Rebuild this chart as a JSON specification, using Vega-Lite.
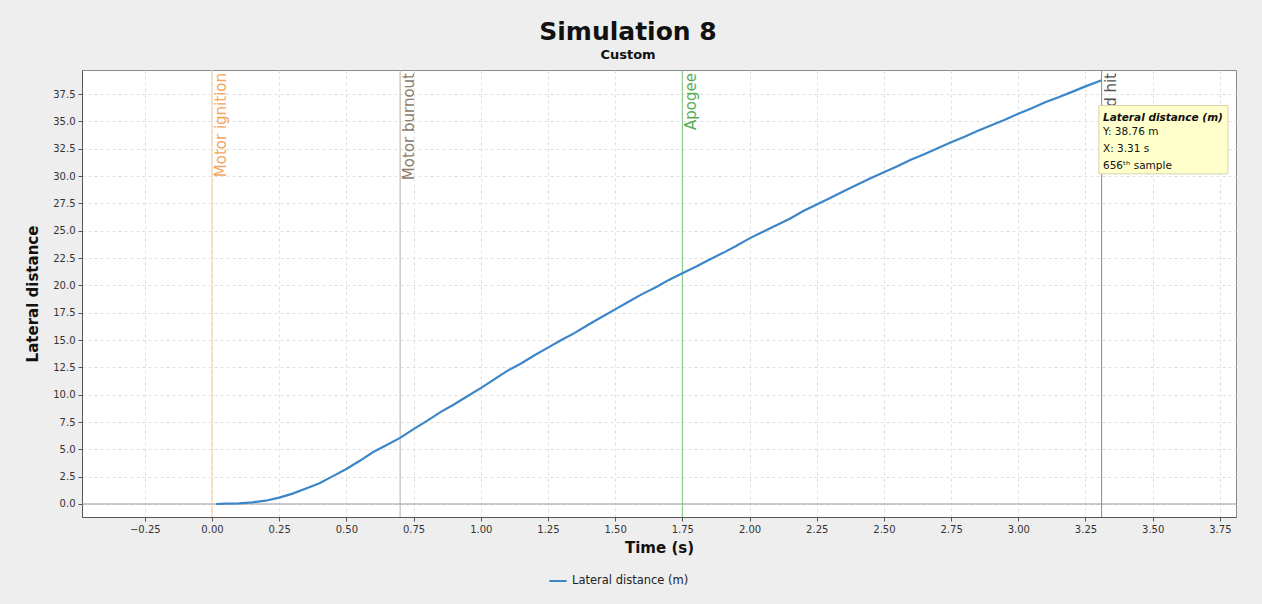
{
  "$schema": "https://vega.github.io/schema/vega-lite/v6.json",
  "width": 1154,
  "height": 447,
  "autosize": {"type": "none"},
  "padding": {"left": 82, "top": 70, "right": 26, "bottom": 87},
  "background": "#eeeeee",
  "config": {
    "view": {"fill": "white", "stroke": "#8a8a8a", "strokeWidth": 1},
    "font": "DejaVu Sans",
    "axis": {
      "labelFont": "DejaVu Sans",
      "labelFontSize": 10,
      "labelColor": "#333333",
      "labelOverlap": false,
      "titleFont": "DejaVu Sans",
      "titleFontSize": 15,
      "titleFontWeight": "bold",
      "titleColor": "#111111",
      "domainColor": "#555555",
      "tickColor": "#555555",
      "tickSize": 4,
      "labelPadding": 3,
      "gridColor": "#e0e0e0",
      "gridDash": [3, 3],
      "gridWidth": 1
    },
    "axisY": {"titlePadding": 12},
    "axisX": {"titlePadding": 6}
  },
  "title": {
    "text": "Simulation 8",
    "subtitle": "Custom",
    "anchor": "middle",
    "dx": -31,
    "fontSize": 25,
    "fontWeight": "bold",
    "color": "#111111",
    "subtitleFontSize": 13,
    "subtitleFontWeight": "bold",
    "subtitleColor": "#111111",
    "subtitlePadding": 4,
    "offset": 8
  },
  "datasets": {
    "series": [
      {"t": 0.015, "v": 0.0}, {"t": 0.05, "v": 0.03}, {"t": 0.10, "v": 0.05}, {"t": 0.15, "v": 0.15},
      {"t": 0.20, "v": 0.3}, {"t": 0.25, "v": 0.58}, {"t": 0.30, "v": 0.95}, {"t": 0.35, "v": 1.42},
      {"t": 0.40, "v": 1.9}, {"t": 0.45, "v": 2.55}, {"t": 0.50, "v": 3.2}, {"t": 0.55, "v": 3.95},
      {"t": 0.60, "v": 4.75}, {"t": 0.65, "v": 5.4}, {"t": 0.70, "v": 6.05}, {"t": 0.75, "v": 6.85},
      {"t": 0.80, "v": 7.6}, {"t": 0.85, "v": 8.4}, {"t": 0.90, "v": 9.1}, {"t": 0.95, "v": 9.85},
      {"t": 1.00, "v": 10.6}, {"t": 1.05, "v": 11.4}, {"t": 1.10, "v": 12.2}, {"t": 1.15, "v": 12.85},
      {"t": 1.20, "v": 13.6}, {"t": 1.25, "v": 14.3}, {"t": 1.30, "v": 15.0}, {"t": 1.35, "v": 15.65},
      {"t": 1.40, "v": 16.4}, {"t": 1.45, "v": 17.1}, {"t": 1.50, "v": 17.8}, {"t": 1.55, "v": 18.5},
      {"t": 1.60, "v": 19.2}, {"t": 1.65, "v": 19.8}, {"t": 1.70, "v": 20.5}, {"t": 1.75, "v": 21.1},
      {"t": 1.80, "v": 21.7}, {"t": 1.85, "v": 22.35}, {"t": 1.90, "v": 22.95}, {"t": 1.95, "v": 23.6},
      {"t": 2.00, "v": 24.3}, {"t": 2.05, "v": 24.9}, {"t": 2.10, "v": 25.5}, {"t": 2.15, "v": 26.1},
      {"t": 2.20, "v": 26.8}, {"t": 2.25, "v": 27.4}, {"t": 2.30, "v": 28.0}, {"t": 2.35, "v": 28.6},
      {"t": 2.40, "v": 29.2}, {"t": 2.45, "v": 29.8}, {"t": 2.50, "v": 30.35}, {"t": 2.55, "v": 30.9},
      {"t": 2.60, "v": 31.5}, {"t": 2.65, "v": 32.0}, {"t": 2.70, "v": 32.55}, {"t": 2.75, "v": 33.1},
      {"t": 2.80, "v": 33.6}, {"t": 2.85, "v": 34.15}, {"t": 2.90, "v": 34.65}, {"t": 2.95, "v": 35.15},
      {"t": 3.00, "v": 35.7}, {"t": 3.05, "v": 36.2}, {"t": 3.10, "v": 36.75}, {"t": 3.15, "v": 37.2},
      {"t": 3.20, "v": 37.7}, {"t": 3.25, "v": 38.2}, {"t": 3.31, "v": 38.76}
    ],
    "events": [
      {"t": 0.0, "event": "Motor ignition"},
      {"t": 0.7, "event": "Motor burnout"},
      {"t": 1.75, "event": "Apogee"},
      {"t": 3.31, "event": "Ground hit"}
    ]
  },
  "layer": [
    {
      "data": {"values": [{"v": 0}]},
      "mark": {"type": "rule", "color": "#9a9a9a", "strokeWidth": 1},
      "encoding": {
        "y": {
          "field": "v", "type": "quantitative",
          "scale": {"domain": [-1.19, 39.7], "nice": false, "zero": false},
          "axis": {"values": [0, 2.5, 5, 7.5, 10, 12.5, 15, 17.5, 20, 22.5, 25, 27.5, 30, 32.5, 35, 37.5], "format": ".1f"},
          "title": "Lateral distance"
        }
      }
    },
    {
      "data": {"name": "events"},
      "mark": {"type": "rule", "strokeWidth": 1},
      "encoding": {
        "x": {
          "field": "t", "type": "quantitative",
          "scale": {"domain": [-0.4836, 3.81], "nice": false, "zero": false},
          "axis": {"values": [-0.25, 0, 0.25, 0.5, 0.75, 1, 1.25, 1.5, 1.75, 2, 2.25, 2.5, 2.75, 3, 3.25, 3.5, 3.75], "format": ".2f"},
          "title": "Time (s)"
        },
        "stroke": {
          "field": "event", "type": "nominal",
          "scale": {"domain": ["Motor ignition", "Motor burnout", "Apogee", "Ground hit"], "range": ["#f7c89a", "#b8ada3", "#7cc47c", "#8a8a8a"]},
          "legend": null
        }
      }
    },
    {
      "data": {"name": "events"},
      "mark": {"type": "text", "angle": 270, "align": "right", "baseline": "top", "dx": -3, "dy": 2, "fontSize": 15, "font": "DejaVu Sans"},
      "encoding": {
        "x": {"field": "t", "type": "quantitative", "title": "Time (s)",
          "axis": {"values": [-0.25, 0, 0.25, 0.5, 0.75, 1, 1.25, 1.5, 1.75, 2, 2.25, 2.5, 2.75, 3, 3.25, 3.5, 3.75], "format": ".2f"}},
        "y": {"datum": 39.7, "type": "quantitative", "title": "Lateral distance",
          "axis": {"values": [0, 2.5, 5, 7.5, 10, 12.5, 15, 17.5, 20, 22.5, 25, 27.5, 30, 32.5, 35, 37.5], "format": ".1f"}},
        "text": {"field": "event"},
        "fill": {
          "field": "event", "type": "nominal",
          "scale": {"domain": ["Motor ignition", "Motor burnout", "Apogee", "Ground hit"], "range": ["#f2a55f", "#8c7b6d", "#5aad5a", "#555555"]},
          "legend": null
        }
      }
    },
    {
      "data": {"name": "series"},
      "mark": {"type": "line", "strokeWidth": 2.2, "interpolate": "linear"},
      "encoding": {
        "x": {"field": "t", "type": "quantitative", "title": "Time (s)",
          "axis": {"values": [-0.25, 0, 0.25, 0.5, 0.75, 1, 1.25, 1.5, 1.75, 2, 2.25, 2.5, 2.75, 3, 3.25, 3.5, 3.75], "format": ".2f"}},
        "y": {"field": "v", "type": "quantitative", "title": "Lateral distance",
          "axis": {"values": [0, 2.5, 5, 7.5, 10, 12.5, 15, 17.5, 20, 22.5, 25, 27.5, 30, 32.5, 35, 37.5], "format": ".1f"}},
        "color": {
          "datum": "Lateral distance (m)",
          "scale": {"range": ["#3c86c8"]},
          "legend": {
            "orient": "none", "legendX": 466, "legendY": 501, "title": null,
            "symbolType": "stroke", "symbolSize": 300, "symbolStrokeWidth": 2,
            "labelFontSize": 11.5, "labelFont": "DejaVu Sans", "labelColor": "#222222"
          }
        }
      }
    },
    {
      "data": {"values": [{"a": 3.30, "b": 3.78, "c": 36.45, "d": 30.2}]},
      "mark": {"type": "rect", "fill": "#ffffcc", "stroke": "#d6d6a8", "strokeWidth": 1},
      "encoding": {
        "x": {"field": "a", "type": "quantitative", "title": "Time (s)",
          "axis": {"values": [-0.25, 0, 0.25, 0.5, 0.75, 1, 1.25, 1.5, 1.75, 2, 2.25, 2.5, 2.75, 3, 3.25, 3.5, 3.75], "format": ".2f"}},
        "x2": {"field": "b"},
        "y": {"field": "c", "type": "quantitative", "title": "Lateral distance",
          "axis": {"values": [0, 2.5, 5, 7.5, 10, 12.5, 15, 17.5, 20, 22.5, 25, 27.5, 30, 32.5, 35, 37.5], "format": ".1f"}},
        "y2": {"field": "d"}
      }
    },
    {
      "data": {"values": [{"a": 3.315, "c": 35.05, "label": "Lateral distance (m)"}]},
      "mark": {"type": "text", "align": "left", "baseline": "alphabetic", "fontSize": 10.5, "fontWeight": "bold", "fontStyle": "italic", "font": "DejaVu Sans", "color": "#111111"},
      "encoding": {
        "x": {"field": "a", "type": "quantitative", "title": "Time (s)",
          "axis": {"values": [-0.25, 0, 0.25, 0.5, 0.75, 1, 1.25, 1.5, 1.75, 2, 2.25, 2.5, 2.75, 3, 3.25, 3.5, 3.75], "format": ".2f"}},
        "y": {"field": "c", "type": "quantitative", "title": "Lateral distance",
          "axis": {"values": [0, 2.5, 5, 7.5, 10, 12.5, 15, 17.5, 20, 22.5, 25, 27.5, 30, 32.5, 35, 37.5], "format": ".1f"}},
        "text": {"field": "label"}
      }
    },
    {
      "data": {"values": [{"a": 3.315, "c": 33.75}]},
      "mark": {"type": "text", "align": "left", "baseline": "alphabetic", "fontSize": 10.5, "lineHeight": 17, "font": "DejaVu Sans", "color": "#111111"},
      "encoding": {
        "x": {"field": "a", "type": "quantitative", "title": "Time (s)",
          "axis": {"values": [-0.25, 0, 0.25, 0.5, 0.75, 1, 1.25, 1.5, 1.75, 2, 2.25, 2.5, 2.75, 3, 3.25, 3.5, 3.75], "format": ".2f"}},
        "y": {"field": "c", "type": "quantitative", "title": "Lateral distance",
          "axis": {"values": [0, 2.5, 5, 7.5, 10, 12.5, 15, 17.5, 20, 22.5, 25, 27.5, 30, 32.5, 35, 37.5], "format": ".1f"}},
        "text": {"value": ["Y: 38.76 m", "X: 3.31 s", "656ᵗʰ sample"]}
      }
    }
  ]
}
